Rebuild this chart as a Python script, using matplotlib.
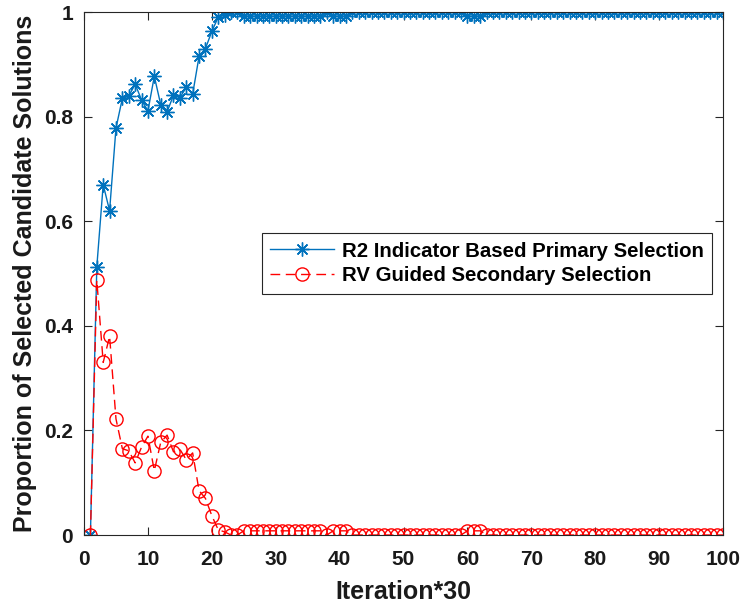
import numpy as np
import matplotlib
matplotlib.use("Agg")
import matplotlib.pyplot as plt

plt.rcParams['font.family'] = ['Liberation Sans', 'DejaVu Sans']
plt.rcParams['font.weight'] = 'bold'

iterations = np.arange(1, 101)

# R2 indicator based primary selection, first 20 iterations
primaryHead = [0.0, 0.513, 0.67, 0.62, 0.778, 0.835, 0.839, 0.862, 0.832, 0.811,
	0.877, 0.823, 0.809, 0.841, 0.836, 0.856, 0.843, 0.915, 0.93, 0.963]
# RV guided secondary selection, same iterations
secondaryHead = [0.0, 0.487, 0.33, 0.38, 0.222, 0.165, 0.161, 0.138, 0.168, 0.189,
	0.123, 0.177, 0.191, 0.159, 0.164, 0.144, 0.157, 0.085, 0.07, 0.037]
# iterations 21..100 of the secondary selection (the tail near zero)
secondaryTail = ([0.01, 0.006, 0.0, 0.0] + [0.008] * 13 + [0.0] + [0.008] * 3
	+ [0.0] * 18 + [0.008] * 3 + [0.0] * 38)
primaryTail = [round(1 - s, 3) for s in secondaryTail]

primary = np.array(primaryHead + primaryTail)
secondary = np.array(secondaryHead + secondaryTail)

fig = plt.figure(figsize=(7.41, 6.07), dpi=100)
ax = fig.add_axes([0.1134, 0.1186, 0.8623, 0.8616])

# matlab style asterisk: + and x on top of each other
ax.plot(iterations, primary, color="#0072BD", lw=1.0, marker=(8, 2, 0), ms=10, mew=1.0,
	label="R2 Indicator Based Primary Selection")
ax.plot(iterations, secondary, color="red", lw=1.0, ls=(0, (7, 4)), marker="o", ms=9.5,
	mfc="none", mew=1.0, label="RV Guided Secondary Selection")

ax.set_xlim(0, 100)
ax.set_ylim(0, 1)
ax.set_xticks(np.arange(0, 101, 10))
ax.set_yticks([0, 0.2, 0.4, 0.6, 0.8, 1])
ax.set_yticklabels(["0", "0.2", "0.4", "0.6", "0.8", "1"])
ax.tick_params(direction="in", top=True, right=True, labelsize=15, length=6, width=0.8,
	colors="#262626")
ax.tick_params(axis="x", pad=11)
ax.tick_params(axis="y", pad=8)
for lbl in ax.get_xticklabels() + ax.get_yticklabels():
	lbl.set_color("#1a1a1a")
for s in ax.spines.values():
	s.set_color("#262626")
	s.set_linewidth(0.8)

ax.set_xlabel("Iteration*30", fontsize=18, fontweight="bold", labelpad=8, color="#1a1a1a")
ax.set_ylabel("Proportion of Selected Candidate Solutions", fontsize=18, fontweight="bold",
	labelpad=5, color="#1a1a1a")

leg = ax.legend(loc="upper right", bbox_to_anchor=(0.983, 0.5774), fontsize=14.7, fancybox=False,
	framealpha=1, edgecolor="#262626", borderpad=0.42, handlelength=3.1, handletextpad=0.4,
	labelspacing=0.28, borderaxespad=0)
leg.get_frame().set_linewidth(0.8)

fig.savefig("out.png", dpi=100)
